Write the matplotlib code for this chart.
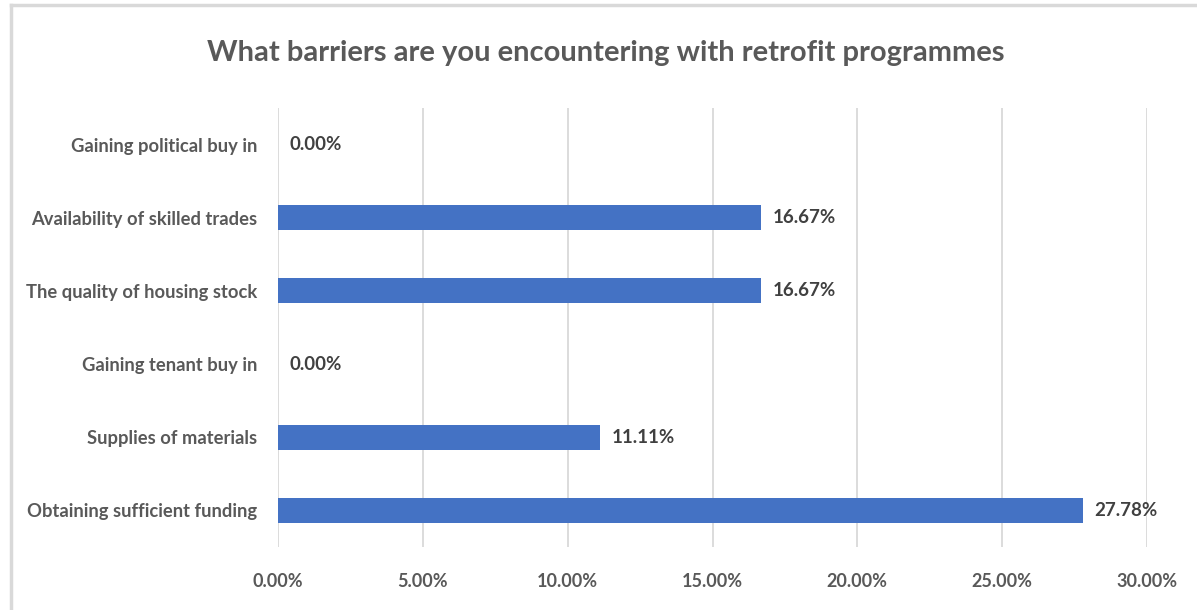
import matplotlib.pyplot as plt
from matplotlib.lines import Line2D
from matplotlib.ticker import FuncFormatter, MultipleLocator

plt.rcParams["font.family"] = ["Lato", "DejaVu Sans"]

# Data, bottom to top as drawn
categories = [
    "Obtaining sufficient funding",
    "Supplies of materials",
    "Gaining tenant buy in",
    "The quality of housing stock",
    "Availability of skilled trades",
    "Gaining political buy in",
]
values = [27.78, 11.11, 0.00, 16.67, 16.67, 0.00]  # [%]

title = "What barriers are you encountering with retrofit programmes"
bar_color = "#4472C4"
text_color = "#595959"
grid_color = "#D9D9D9"

fig = plt.figure(figsize=(11.97, 6.10), dpi=100)
ax = fig.add_axes([0.2323, 0.1033, 0.7259, 0.7197])

y = range(len(categories))
ax.barh(y, values, height=0.34, color=bar_color, zorder=3)

for yi, v in zip(y, values):
    ax.text(v + 0.4, yi, f"{v:.2f}%", va="center", ha="left",
            fontsize=13.5, fontweight="bold", color="#404040")

ax.set_xlim(0, 30)
ax.set_ylim(-0.5, len(categories) - 0.5)
ax.set_yticks(list(y))
ax.set_yticklabels(categories, fontsize=13.2, fontweight="bold", color=text_color)
ax.xaxis.set_major_locator(MultipleLocator(5))
ax.xaxis.set_major_formatter(FuncFormatter(lambda x, _: f"{x:.2f}%"))
ax.tick_params(axis="x", labelsize=13, colors=text_color, length=0, pad=19)
ax.tick_params(axis="y", length=0, pad=15)
for lbl in ax.get_xticklabels():
    lbl.set_fontweight("bold")

ax.grid(axis="x", color=grid_color, linewidth=1.3, zorder=0)
for side in ["top", "right", "bottom", "left"]:
    ax.spines[side].set_visible(False)

fig.text(0.506, 0.913, title, ha="center", va="center",
         fontsize=21, fontweight="bold", color=text_color)

# Frame around the chart (top and left edges only visible)
fig.add_artist(Line2D([0.009, 1.0], [0.992, 0.992], color=grid_color, lw=2.5))
fig.add_artist(Line2D([0.009, 0.009], [0.0, 0.992], color=grid_color, lw=2.5))

fig.savefig("out.png", dpi=100, facecolor="white")
